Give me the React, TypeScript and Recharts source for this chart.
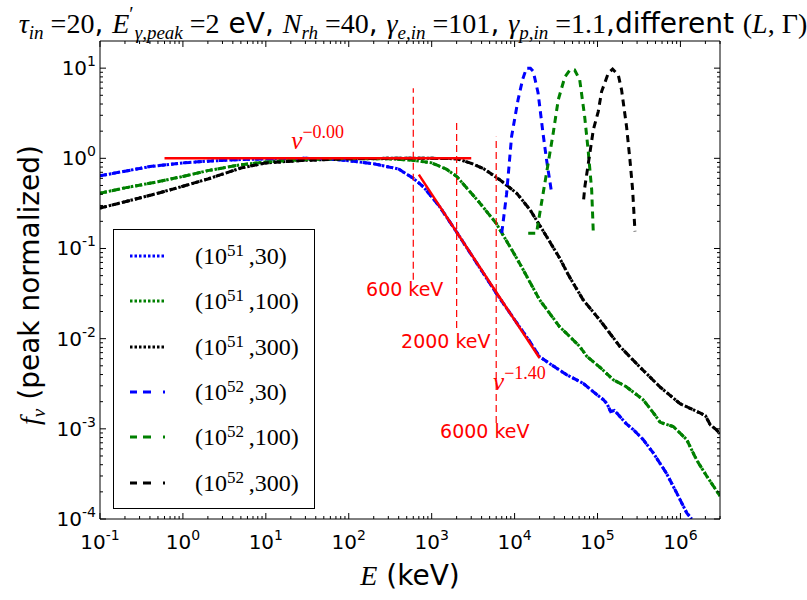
import React from 'react';
import { ComposedChart, Line, XAxis, YAxis, Legend, Scatter, Label } from 'recharts';

// ---------- axes ----------
const X_DOMAIN = [0.1, 3e6];
const Y_DOMAIN = [1e-4, 20];
const xMajorTicks = [0.1, 1, 10, 100, 1e3, 1e4, 1e5, 1e6];
const yMajorTicks = [1e-4, 1e-3, 1e-2, 1e-1, 1, 10];
const minorMultipliers = [2, 3, 4, 5, 6, 7, 8, 9];

const xTicks = [
  ...xMajorTicks,
  ...xMajorTicks.flatMap((d) => minorMultipliers.map((m) => d * m)).filter((v) => v <= X_DOMAIN[1]),
];
const yTicks = [
  ...yMajorTicks,
  ...yMajorTicks.flatMap((d) => minorMultipliers.map((m) => d * m)).filter((v) => v < Y_DOMAIN[1]),
];

// ---------- data: (E [keV], f_nu) ----------
const blue51 = [
  [0.1, 0.64], [0.2, 0.72], [0.4, 0.81], [1, 0.89], [2, 0.93], [5, 0.97], [10, 0.985], [30, 1.0],
  [60, 0.98], [100, 0.94], [200, 0.87], [400, 0.76], [600, 0.6], [800, 0.48], [1250, 0.29],
  [2000, 0.152], [6000, 0.032], [1e4, 0.0162], [1.5e4, 0.0095], [2e4, 0.0063], [3e4, 0.0049],
  [4.2e4, 0.004], [6.7e4, 0.0032], [9.8e4, 0.0024], [1.18e5, 0.0021], [1.3e5, 0.0019],
  [1.44e5, 0.00155], [1.6e5, 0.0016], [2.2e5, 0.00115], [2.7e5, 0.00098], [3.55e5, 0.00076],
  [4.7e5, 0.00054], [6.8e5, 0.00032], [9e5, 0.000195], [1.19e6, 0.000117], [1.37e6, 0.0001],
];
const green51 = [
  [0.1, 0.41], [0.2, 0.47], [0.5, 0.55], [1, 0.63], [2, 0.73], [5, 0.85], [10, 0.91], [30, 0.97],
  [100, 0.99], [300, 0.99], [600, 0.95], [1000, 0.89], [1500, 0.76], [2000, 0.63], [3800, 0.32],
  [6000, 0.19], [1.06e4, 0.078], [1.27e4, 0.058], [2e4, 0.027], [3.5e4, 0.0135], [4.2e4, 0.0115],
  [6.1e4, 0.0082], [7.4e4, 0.0064], [1.1e5, 0.0047], [1.55e5, 0.0035], [2.2e5, 0.00295],
  [3.56e5, 0.0021], [5e5, 0.0014], [5.7e5, 0.00118], [8.2e5, 0.00106], [1.19e6, 0.00076],
  [1.57e6, 0.00045], [2.07e6, 0.0003], [3e6, 0.00018],
];
const black51 = [
  [0.1, 0.28], [0.2, 0.33], [0.5, 0.41], [1, 0.49], [2, 0.59], [5, 0.78], [10, 0.89], [30, 0.95],
  [100, 0.99], [300, 1.0], [1000, 1.0], [2000, 0.99], [3000, 0.88], [4200, 0.77], [6600, 0.58],
  [1.06e4, 0.41], [1.53e4, 0.27], [2.43e4, 0.136], [3.5e4, 0.078], [4.5e4, 0.05], [6.7e4, 0.027],
  [1.07e5, 0.016], [1.86e5, 0.0082], [3.2e5, 0.0049], [5.7e5, 0.0029], [9.9e5, 0.0019],
  [1.72e6, 0.0015], [2e6, 0.0014], [2.3e6, 0.0011], [2.7e6, 0.00098], [3e6, 0.00088],
];
// 10^52 continua lie on top of the 10^51 ones in the reference
const blue52 = blue51;
const green52 = green51;
const black52 = black51;
const blue52Peak = [
  [7000, 0.148], [8000, 0.4], [9200, 1.75], [1.1e4, 4.45], [1.25e4, 7.5], [1.39e4, 10], [1.55e4, 10],
  [1.68e4, 9.2], [1.92e4, 5.3], [2.2e4, 1.9], [2.43e4, 0.96], [2.8e4, 0.41],
];
const green52Peak = [
  [1.46e4, 0.148], [1.84e4, 0.148], [1.92e4, 0.19], [2.43e4, 0.69], [2.92e4, 1.9], [3.36e4, 4.45],
  [4.04e4, 8.0], [4.65e4, 9.55], [5.3e4, 9.55], [6.1e4, 7.4], [7e4, 2.9], [7.7e4, 1.24],
  [8.5e4, 0.45], [8.9e4, 0.148],
];
const black52Peak = [
  [6.8e4, 0.35], [7.05e4, 0.49], [8.9e4, 2.07], [1.02e5, 3.3], [1.12e5, 5.5], [1.35e5, 8.8],
  [1.52e5, 9.75], [1.78e5, 8.4], [1.95e5, 5.75], [2.24e5, 2.25], [2.46e5, 0.96], [2.65e5, 0.45],
  [2.83e5, 0.155],
];
const fitFlat = [[0.6, 1], [3000, 1]];
const fitSteep = [[700, 0.66], [2e4, 0.0061]];
const markerEnergies = [600, 2000, 6000];
const markerLow = [0.045, 0.0131, 0.00116];
const markerHigh = [6.0, 2.67, 1.74];
const kevLabels = [
  { x: 473, y: 0.0294, text: '600 keV' },
  { x: 1480, y: 0.0079, text: '2000 keV' },
  { x: 4375, y: 0.00079, text: '6000 keV' },
];
const slopeLabels = [
  { x: 20.3, y: 1.265, exp: '\u22120.00' },
  { x: 5500, y: 0.00271, exp: '\u22121.40' },
];

const toPts = (arr: number[][]) => arr.map(([x, y]) => ({ x, y }));

const DOT = '2.5 2';
const DASH = '7 5';
const BLUE = '#0000ff';
const GREEN = '#008000';
const BLACK = '#000000';
const RED = '#ff0000';

const legendRows = [
  { color: BLUE, dash: DOT, exp: '51', g: '30' },
  { color: GREEN, dash: DOT, exp: '51', g: '100' },
  { color: BLACK, dash: DOT, exp: '51', g: '300' },
  { color: BLUE, dash: '7 6 8 12 2', exp: '52', g: '30' },
  { color: GREEN, dash: '7 6 8 12 2', exp: '52', g: '100' },
  { color: BLACK, dash: '7 6 8 12 2', exp: '52', g: '300' },
];

const isMajor = (v: number) => Math.abs(Math.log10(v) - Math.round(Math.log10(v))) < 1e-6;
const expOf = (v: number) => {
  const e = Math.round(Math.log10(v));
  return e < 0 ? '-' + Math.abs(e) : String(e);
};

const TICK_FONT = 'DejaVu Sans';

const BottomTick = (p: any) => {
  const v = p.payload.value;
  const major = isMajor(v);
  return (
    <g>
      <line x1={p.x} y1={p.y} x2={p.x} y2={p.y - (major ? 6 : 3)} stroke="#000" strokeWidth={1} />
      {major && (
        <text x={p.x} y={p.y + 30} textAnchor="middle" fontSize={20} fontFamily={TICK_FONT} fill="#000">
          10<tspan dy={-9} fontSize={14}>{expOf(v)}</tspan>
        </text>
      )}
    </g>
  );
};
const TopTick = (p: any) => {
  const major = isMajor(p.payload.value);
  return <line x1={p.x} y1={p.y} x2={p.x} y2={p.y + (major ? 6 : 3)} stroke="#000" strokeWidth={1} />;
};
const LeftTick = (p: any) => {
  const v = p.payload.value;
  const major = isMajor(v);
  return (
    <g>
      <line x1={p.x} y1={p.y} x2={p.x + (major ? 6 : 3)} y2={p.y} stroke="#000" strokeWidth={1} />
      {major && (
        <text x={p.x - 4} y={p.y + 7} textAnchor="end" fontSize={20} fontFamily={TICK_FONT} fill="#000">
          10<tspan dy={-9} fontSize={14}>{expOf(v)}</tspan>
        </text>
      )}
    </g>
  );
};
const RightTick = (p: any) => {
  const major = isMajor(p.payload.value);
  return <line x1={p.x} y1={p.y} x2={p.x - (major ? 6 : 3)} y2={p.y} stroke="#000" strokeWidth={1} />;
};

const mi = { fontFamily: 'Liberation Serif', fontStyle: 'italic' } as const;
const mr = { fontFamily: 'Liberation Serif' } as const;
const sans = { fontFamily: 'DejaVu Sans' } as const;

const LegendBox = () => (
  <div
    style={{
      width: 202,
      height: 280,
      boxSizing: 'border-box',
      border: '1.5px solid #000',
      background: '#fff',
      position: 'relative',
    }}
  >
    {legendRows.map((r, i) => (
      <div
        key={i}
        style={{
          position: 'absolute',
          left: 0,
          top: 26 + i * 45.3 - 15,
          height: 30,
          width: 200,
          display: 'flex',
          alignItems: 'center',
        }}
      >
        <svg width={36} height={6} style={{ marginLeft: 16, flex: 'none' }}>
          <line x1={0} y1={3} x2={36} y2={3} stroke={r.color} strokeWidth={3} strokeDasharray={r.dash} />
        </svg>
        <span
          style={{
            marginLeft: 29,
            fontFamily: 'Liberation Serif',
            fontSize: 24,
            color: '#000',
            lineHeight: '30px',
            whiteSpace: 'nowrap',
          }}
        >
          (10<sup style={{ fontSize: 17, lineHeight: 0, verticalAlign: '0.45em' }}>{r.exp}</sup>
          {'\u2009,'}
          {r.g})
        </span>
      </div>
    ))}
  </div>
);

const XLabel = (p: any) => {
  const vb = p.viewBox;
  return (
    <text x={vb.x + vb.width / 2} y={vb.y + 66} textAnchor="middle" fontSize={28} fill="#000">
      <tspan style={mi}>E</tspan>
      <tspan style={sans}> (keV)</tspan>
    </text>
  );
};
const YLabel = (p: any) => {
  const vb = p.viewBox;
  const cx = vb.x - 1;
  const cy = vb.y + vb.height / 2 + 5;
  return (
    <text x={cx} y={cy} transform={`rotate(-90 ${cx} ${cy})`} textAnchor="middle" fontSize={28} fill="#000">
      <tspan style={mi}>f</tspan>
      <tspan style={mi} fontSize={19} dy={6}>ν</tspan>
      <tspan style={sans} dy={-6}> (peak normalized)</tspan>
    </text>
  );
};

const KevText = (p: any) => (
  <text x={p.cx} y={p.cy} textAnchor="middle" fill={RED} fontSize={19} fontFamily="DejaVu Sans">
    {p.payload.text}
  </text>
);
const SlopeText = (p: any) => (
  <text x={p.cx} y={p.cy} textAnchor="start" fill={RED} fontSize={25}>
    <tspan style={mi}>ν</tspan>
    <tspan style={mr} fontSize={18} dy={-11}>{p.payload.exp}</tspan>
  </text>
);

export default function App() {
  const curve = (data: number[][], color: string, dash: string, key: string, width = 3) => (
    <Line
      key={key}
      data={toPts(data)}
      dataKey="y"
      type="linear"
      stroke={color}
      strokeWidth={width}
      strokeDasharray={dash}
      dot={false}
      activeDot={false}
      isAnimationActive={false}
      legendType="none"
    />
  );
  return (
    <div
      style={{
        position: 'absolute',
        left: 0,
        top: 0,
        width: 807,
        height: 600,
        background: '#fff',
        fontFamily: 'DejaVu Sans',
      }}
    >
      <ComposedChart width={807} height={600} margin={{ top: 21, right: 67, bottom: 51, left: 40 }}>
        <XAxis
          type="number"
          dataKey="x"
          scale="log"
          domain={X_DOMAIN}
          allowDataOverflow
          ticks={xTicks}
          interval={0}
          tickSize={0}
          tickMargin={0}
          tick={BottomTick}
          height={30}
          axisLine={{ stroke: '#000', strokeWidth: 1 }}
          tickLine={false}
        >
          <Label content={XLabel} />
        </XAxis>
        <XAxis
          xAxisId="top"
          orientation="top"
          type="number"
          dataKey="x"
          scale="log"
          domain={X_DOMAIN}
          allowDataOverflow
          ticks={xTicks}
          interval={0}
          tickSize={0}
          tickMargin={0}
          tick={TopTick}
          height={20}
          axisLine={{ stroke: '#000', strokeWidth: 1 }}
          tickLine={false}
        />
        <YAxis
          type="number"
          scale="log"
          domain={Y_DOMAIN}
          allowDataOverflow
          ticks={yTicks}
          interval={0}
          tickSize={0}
          tickMargin={0}
          tick={LeftTick}
          width={60}
          axisLine={{ stroke: '#000', strokeWidth: 1 }}
          tickLine={false}
        >
          <Label content={YLabel} />
        </YAxis>
        <YAxis
          yAxisId="right"
          orientation="right"
          type="number"
          scale="log"
          domain={Y_DOMAIN}
          allowDataOverflow
          ticks={yTicks}
          interval={0}
          tickSize={0}
          tickMargin={0}
          tick={RightTick}
          width={20}
          axisLine={{ stroke: '#000', strokeWidth: 1 }}
          tickLine={false}
        />
        <Legend
          content={LegendBox}
          layout="vertical"
          align="center"
          verticalAlign="middle"
          wrapperStyle={{ left: 113, top: 229, width: 202, height: 280 }}
        />
        {curve(blue51, BLUE, DOT, 'b51')}
        {curve(green51, GREEN, DOT, 'g51')}
        {curve(black51, BLACK, DOT, 'k51')}
        {curve(blue52, BLUE, DASH, 'b52')}
        {curve(green52, GREEN, DASH, 'g52')}
        {curve(black52, BLACK, DASH, 'k52')}
        {curve(blue52Peak, BLUE, DASH, 'b52p')}
        {curve(green52Peak, GREEN, DASH, 'g52p')}
        {curve(black52Peak, BLACK, DASH, 'k52p')}
        {curve(fitFlat, RED, '0', 'fit0', 2.5)}
        {curve(fitSteep, RED, '0', 'fit1', 2.5)}
        {markerEnergies.map((e, i) =>
          curve(
            [
              [e, markerLow[i]],
              [e, markerHigh[i]],
            ],
            RED,
            '7 4',
            'm' + i,
            1.2
          )
        )}
        <Scatter data={kevLabels} dataKey="y" isAnimationActive={false} shape={KevText} legendType="none" />
        <Scatter data={slopeLabels} dataKey="y" isAnimationActive={false} shape={SlopeText} legendType="none" />
      </ComposedChart>
      <svg width={807} height={50} style={{ position: 'absolute', left: 0, top: 0, pointerEvents: 'none' }}>
        <text x={413} y={33} textAnchor="middle" fontSize={28} fill="#000">
          <tspan style={mi}>τ</tspan>
          <tspan style={mi} fontSize={19} dy={6}>in</tspan>
          <tspan style={mr} dy={-6}>{' =20'}</tspan>
          <tspan style={sans}>{', '}</tspan>
          <tspan style={mi}>E</tspan>
          <tspan style={mr} fontSize={20} dy={-12}>′</tspan>
          <tspan style={mi} fontSize={19} dx={1} dy={18}>γ,peak</tspan>
          <tspan style={mr} dy={-6}>{' =2'}</tspan>
          <tspan style={sans}>{' eV, '}</tspan>
          <tspan style={mi}>N</tspan>
          <tspan style={mi} fontSize={19} dy={6}>rh</tspan>
          <tspan style={mr} dy={-6}>{' =40'}</tspan>
          <tspan style={sans}>{', '}</tspan>
          <tspan style={mi}>γ</tspan>
          <tspan style={mi} fontSize={19} dy={6}>e,in</tspan>
          <tspan style={mr} dy={-6}>{' =101'}</tspan>
          <tspan style={sans}>{', '}</tspan>
          <tspan style={mi}>γ</tspan>
          <tspan style={mi} fontSize={19} dy={6}>p,in</tspan>
          <tspan style={mr} dy={-6}>{' =1.1'}</tspan>
          <tspan style={sans}>{',different '}</tspan>
          <tspan style={mr}>(</tspan>
          <tspan style={mi}>L</tspan>
          <tspan style={mr}>{', Γ)'}</tspan>
        </text>
      </svg>
    </div>
  );
}
